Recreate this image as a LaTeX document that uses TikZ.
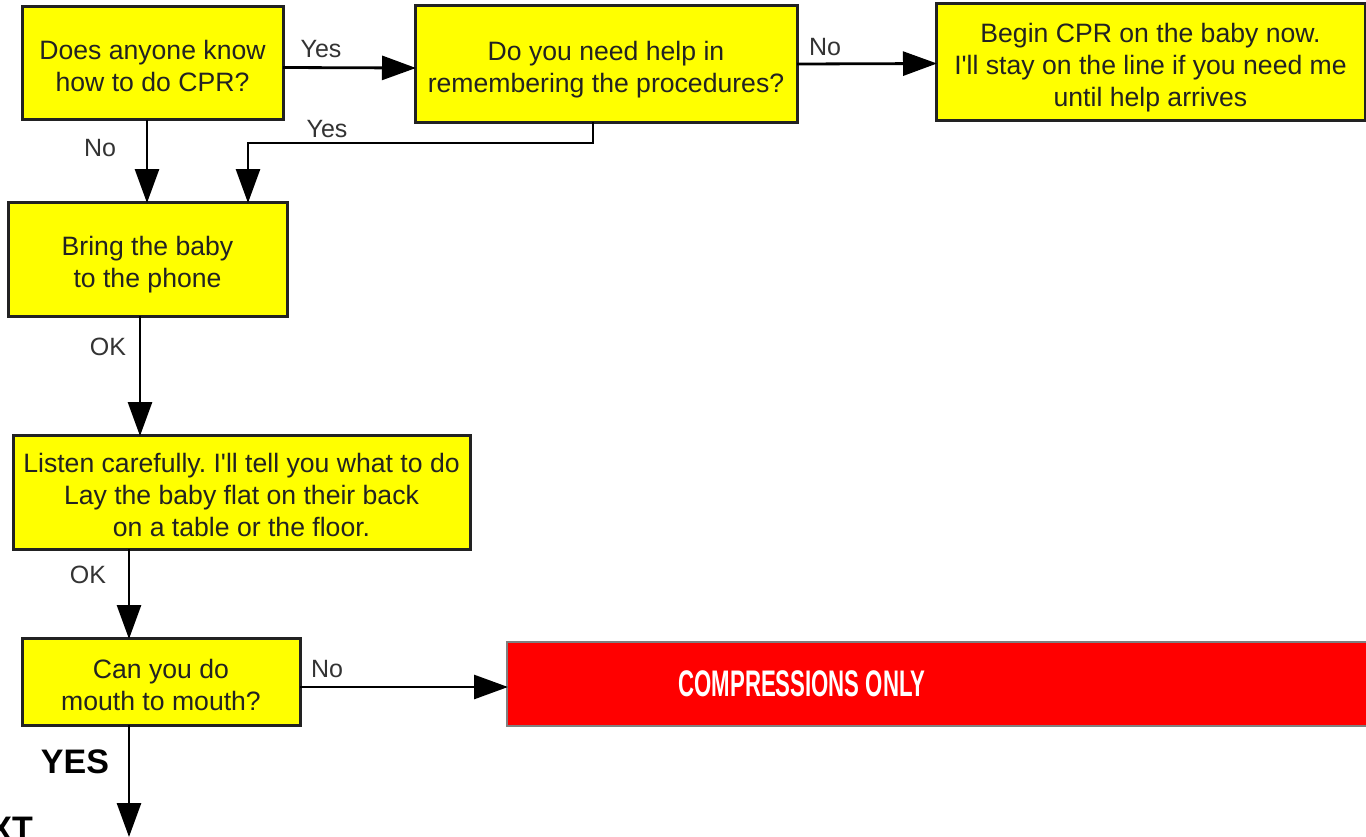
\documentclass[tikz,border=0pt]{standalone}
\usepackage{fontspec}
\usepackage{graphicx}
\setmainfont{Liberation Sans}
\usetikzlibrary{arrows.meta}
\frenchspacing
\definecolor{boxyellow}{HTML}{FFFF00}
\definecolor{alarmred}{HTML}{FF0000}
\definecolor{inktext}{HTML}{222222}
\definecolor{labeltext}{HTML}{333333}
% struts that fix the first and last line of every box text
\newcommand\boxtop{\rule{0pt}{32pt}}
\newcommand\boxbot{\rule[-7pt]{0pt}{7pt}}
\newcommand\apos{\textquotesingle}
\tikzset{
  qbox/.style={draw=inktext, line width=3pt, fill=boxyellow, text=inktext,
    align=center, inner sep=0pt, outer sep=0pt,
    font=\fontsize{26.6}{32}\selectfont},
  redbox/.style={draw=gray, line width=2pt, fill=alarmred, inner sep=0pt, outer sep=0pt},
  redtext/.style={text=white, inner sep=0pt,
    font=\bfseries\fontsize{37}{40}\selectfont},
  edgelabel/.style={text=labeltext, inner sep=0pt, font=\fontsize{25}{28}\selectfont},
  biglabel/.style={text=black, inner sep=0pt, font=\bfseries\fontsize{34}{38}\selectfont},
  link/.style={line width=2.8pt, draw=black,
    -{Triangle[length=34pt,width=24pt]}, shorten >=-1pt},
}
\begin{document}
\begin{tikzpicture}[x=1pt,y=-1pt]
  \useasboundingbox (0,0) rectangle (1366,836);
  \clip (0,0) rectangle (1366,836);

  % question and instruction boxes
  \node[qbox, minimum width=261pt, minimum height=113pt] (know) at (152.5,63)
    {\boxtop Does anyone know\\how to do CPR?\boxbot};
  \node[qbox, minimum width=382pt, minimum height=117pt] (help) at (606,63.5)
    {\boxtop Do you need help in\\remembering the procedures?\boxbot};
  \node[qbox, minimum width=429pt, minimum height=117pt] (begin) at (1150.5,61.5)
    {\boxtop Begin CPR on the baby now.\\I\apos ll stay on the line if you need me\\until help arrives\boxbot};
  \node[qbox, minimum width=279pt, minimum height=114pt] (bring) at (147.5,259)
    {\boxtop Bring the baby\\to the phone\boxbot};
  \node[qbox, minimum width=457pt, minimum height=114pt] (listen) at (241.5,492)
    {\boxtop Listen carefully. I\apos ll tell you what to do\\Lay the baby flat on their back\\on a table or the floor.\boxbot};
  \node[qbox, minimum width=278pt, minimum height=87pt] (mouth) at (161,681.5)
    {\boxtop Can you do\\mouth to mouth?\boxbot};

  % red outcome bar, running past the right edge
  \node[redbox, minimum width=900pt, minimum height=84pt, anchor=west] (comp) at (507,684) {};
  \node[redtext] (comptext) at (802,684) {\scalebox{0.6}[1]{COMPRESSIONS ONLY}};

  % connectors
  \draw[link] ([yshift=-4.5pt]know.east) -- ([yshift=-4.5pt]help.west);
  \draw[link] ([yshift=-0.5pt]help.east) -- (help.east -| begin.west);
  \draw[link] (know.south -| 147,0) -- (bring.north -| 147,0);
  \coordinate (turnA) at (593,143);
  \coordinate (turnB) at (248,143);
  \draw[link] (help.south -| turnA) -- (turnA) -- (turnB) -- (bring.north -| turnB);
  \draw[link] (bring.south -| 140,0) -- (listen.north -| 140,0);
  \draw[link] (listen.south -| 129,0) -- (mouth.north -| 129,0);
  \draw[link] ([yshift=-5.5pt]mouth.east) -- ([yshift=-5.5pt]mouth.east -| comp.west);
  \coordinate (below) at (129,836);
  \draw[link] (mouth.south -| below) -- (below);

  % connector labels
  \node[edgelabel] (lyes1) at (321,49) {Yes};
  \node[edgelabel] (lno1) at (825,47) {No};
  \node[edgelabel] (lno2) at (100,148) {No};
  \node[edgelabel] (lyes2) at (327,129) {Yes};
  \node[edgelabel] (lok1) at (108,347) {OK};
  \node[edgelabel] (lok2) at (88,575) {OK};
  \node[edgelabel] (lno3) at (327,669) {No};
  \node[biglabel] (lyes3) at (75,762) {YES};
  \node[biglabel, anchor=base east] (lnext) at (33,840) {NEXT};
\end{tikzpicture}
\end{document}
